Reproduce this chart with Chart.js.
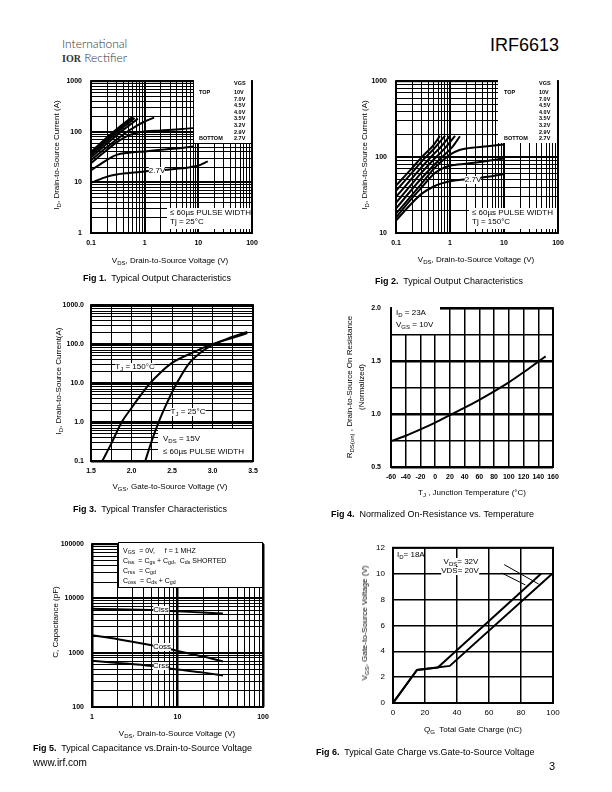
<!DOCTYPE html>
<html>
<head>
<meta charset="utf-8">
<script src="https://cdn.jsdelivr.net/npm/chart.js@4.4.1/dist/chart.umd.min.js"></script>
<style>
  body { margin: 0; width: 612px; height: 792px; background: #fff; position: relative; overflow: hidden;
         font-family: "Liberation Sans", Arial, sans-serif; color: #000; }
  canvas { position: absolute; }
  .t { position: absolute; white-space: nowrap; line-height: 1; z-index: 2; }
  .c { transform: translate(-50%, -50%); }
  .l { transform: translate(0, -50%); }
  .r { transform: translate(-50%, -50%) rotate(-90deg); }
  .w { background: #fff; }
  .box { position: absolute; background: #fff; z-index: 2; }
  sub { font-size: 75%; vertical-align: -0.35em; line-height: 0; }
  .ax { font-size: 8px; }
  .cap { font-size: 9px; }
  .leg { position: absolute; font-size: 5.5px; font-weight: bold; line-height: 1; white-space: nowrap; z-index: 3; }
</style>
</head>
<body>
<canvas id="fig1"></canvas>
<canvas id="fig2"></canvas>
<canvas id="fig3"></canvas>
<canvas id="fig4"></canvas>
<canvas id="fig5"></canvas>
<canvas id="fig6"></canvas>

<!-- header -->
<div class="t l" style="left:62px;top:44px;font-family:Lato,'Open Sans',sans-serif;font-weight:300;font-size:12px;color:#333">International</div>
<div class="t l" style="left:62px;top:58px;font-size:12px;color:#333"><span style="font-family:'Liberation Serif',serif;font-weight:bold;font-size:10px">IOR</span><span style="font-family:Lato,'Open Sans',sans-serif;font-weight:300"> Rectifier</span></div>
<div class="t l" style="left:490px;top:45px;font-size:18px;">IRF6613</div>

<!-- fig 1 -->
<div class="box" style="left:194px;top:79px;width:57px;height:64px"></div>
<div class="box" style="left:167px;top:208px;width:84px;height:21px"></div>
<div class="t l ax" style="left:170px;top:213px">≤ 60µs PULSE WIDTH</div>
<div class="t l ax" style="left:170px;top:222px">Tj = 25°C</div>
<div class="t c ax w" style="left:157px;top:171px">2.7V</div>
<div class="t r ax" style="left:57px;top:155px">I<sub>D</sub>, Drain-to-Source Current (A)</div>
<div class="t c ax" style="left:170px;top:261px">V<sub>DS</sub>, Drain-to-Source Voltage (V)</div>
<div class="t l cap" style="left:83px;top:278px"><b>Fig 1.</b>&nbsp; Typical Output Characteristics</div>

<!-- fig 2 -->
<div class="box" style="left:498px;top:79px;width:59px;height:64px"></div>
<div class="box" style="left:469px;top:208px;width:88px;height:21px"></div>
<div class="t l ax" style="left:472px;top:213px">≤ 60µs PULSE WIDTH</div>
<div class="t l ax" style="left:472px;top:222px">Tj = 150°C</div>
<div class="t c ax w" style="left:473px;top:180px">2.7V</div>
<div class="t r ax" style="left:365px;top:155px">I<sub>D</sub>, Drain-to-Source Current (A)</div>
<div class="t c ax" style="left:476px;top:260px">V<sub>DS</sub>, Drain-to-Source Voltage (V)</div>
<div class="t l cap" style="left:375px;top:281px"><b>Fig 2.</b>&nbsp; Typical Output Characteristics</div>

<!-- fig 3 -->
<div class="t c ax w" style="left:135px;top:367px">T<sub>J</sub> = 150°C</div>
<div class="t c ax w" style="left:188px;top:412px">T<sub>J</sub> = 25°C</div>
<div class="box" style="left:158px;top:429px;width:94px;height:31px"></div>
<div class="t l ax" style="left:163px;top:439px">V<sub>DS</sub> = 15V</div>
<div class="t l ax" style="left:163px;top:452px">≤ 60µs PULSE WIDTH</div>
<div class="t r ax" style="left:59px;top:381px">I<sub>D</sub>, Drain-to-Source Current(A)</div>
<div class="t c ax" style="left:170px;top:487px">V<sub>GS</sub>, Gate-to-Source Voltage (V)</div>
<div class="t l cap" style="left:73px;top:509px"><b>Fig 3.</b>&nbsp; Typical Transfer Characteristics</div>

<!-- fig 4 -->
<div class="box" style="left:392px;top:305px;width:48px;height:29px"></div>
<div class="t l ax" style="left:396px;top:313px">I<sub>D</sub> = 23A</div>
<div class="t l ax" style="left:396px;top:325px">V<sub>GS</sub> = 10V</div>
<div class="t r ax" style="left:350px;top:387px">R<sub>DS(on)</sub> , Drain-to-Source On Resistance</div>
<div class="t r ax" style="left:362px;top:387px">(Normalized)</div>
<div class="t c ax" style="left:472px;top:493px">T<sub>J</sub> , Junction Temperature (°C)</div>
<div class="t l cap" style="left:331px;top:514px"><b>Fig 4.</b>&nbsp; Normalized On-Resistance vs. Temperature</div>

<!-- fig 5 -->
<div class="box" style="left:118px;top:542px;width:143px;height:44px;border:1.5px solid #000"></div>
<div class="t l" style="left:123px;top:550px;font-size:7px">V<sub>GS</sub>&nbsp; = 0V,&nbsp;&nbsp;&nbsp;&nbsp; f = 1 MHZ</div>
<div class="t l" style="left:123px;top:560px;font-size:7px">C<sub>iss</sub>&nbsp; = C<sub>gs</sub> + C<sub>gd</sub>,&nbsp; C<sub>ds</sub> SHORTED</div>
<div class="t l" style="left:123px;top:570px;font-size:7px">C<sub>rss</sub>&nbsp; = C<sub>gd</sub></div>
<div class="t l" style="left:123px;top:580px;font-size:7px">C<sub>oss</sub>&nbsp; = C<sub>ds</sub> + C<sub>gd</sub></div>
<div class="t c ax w" style="left:161px;top:610px">Ciss</div>
<div class="t c ax w" style="left:162px;top:647px">Coss</div>
<div class="t c ax w" style="left:161px;top:666px">Crss</div>
<div class="t r ax" style="left:56px;top:622px">C, Capacitance (pF)</div>
<div class="t c ax" style="left:177px;top:734px">V<sub>DS</sub>, Drain-to-Source Voltage (V)</div>
<div class="t l cap" style="left:33px;top:748px"><b>Fig 5.</b>&nbsp; Typical Capacitance vs.Drain-to-Source Voltage</div>
<div class="t l" style="left:33px;top:763px;font-size:10px">www.irf.com</div>

<!-- fig 6 -->
<div class="t l ax" style="left:397px;top:555px">I<sub>D</sub>= 18A</div>
<div class="t c ax w" style="left:461px;top:562px">V<sub>DS</sub>= 32V</div>
<div class="t c ax w" style="left:460px;top:571px">VDS= 20V</div>
<div class="t r ax" style="left:365px;top:623px">V<sub>GS</sub>, Gate-to-Source Voltage (V)</div>
<div class="t c ax" style="left:473px;top:730px">Q<sub>G</sub>&nbsp; Total Gate Charge (nC)</div>
<div class="t l cap" style="left:316px;top:752px"><b>Fig 6.</b>&nbsp; Typical Gate Charge vs.Gate-to-Source Voltage</div>
<div class="t l" style="left:549px;top:766px;font-size:11px">3</div>

<script>
// Fig 1: output characteristics, Tj = 25°C  [VDS (V), ID (A)]
const fig1Vgs = ["10V", "7.0V", "4.5V", "4.0V", "3.5V", "3.2V", "2.9V", "2.7V"];
const fig1Curves = [
  [[0.1, 40], [0.2, 78], [0.3, 112], [0.4, 144], [0.5, 172], [0.6, 196]],
  [[0.1, 37], [0.2, 72], [0.3, 104], [0.4, 134], [0.5, 161], [0.62, 192]],
  [[0.1, 34], [0.2, 66], [0.3, 95], [0.4, 123], [0.5, 148], [0.65, 188]],
  [[0.1, 31], [0.2, 59], [0.3, 85], [0.4, 109], [0.5, 131], [0.7, 172], [0.75, 182]],
  [[0.1, 27.5], [0.2, 50], [0.3, 70], [0.5, 105], [0.7, 130], [1, 160], [1.5, 190]],
  [[0.1, 24], [0.2, 44], [0.3, 62], [0.5, 85], [0.7, 95], [1, 101], [2, 106], [5, 113], [10, 121]],
  [[0.1, 17.3], [0.2, 28], [0.3, 35], [0.5, 38.5], [1, 41], [2, 44], [5, 48], [8, 51]],
  [[0.1, 9.8], [0.2, 13], [0.3, 14.3], [0.5, 15.3], [1, 16.5], [2, 17.4], [5, 19], [7, 20], [10, 21.5], [15, 26]]
];

// Fig 2: output characteristics, Tj = 150°C
const fig2Curves = [
  [[0.1, 42], [0.2, 72], [0.3, 100], [0.5, 145], [0.65, 190]],
  [[0.1, 36], [0.2, 63], [0.3, 88], [0.5, 128], [0.81, 192]],
  [[0.1, 30], [0.2, 53], [0.3, 74], [0.5, 110], [0.7, 140], [1.0, 192]],
  [[0.1, 25], [0.2, 45], [0.3, 63], [0.5, 93], [0.8, 130], [1.24, 190]],
  [[0.1, 21], [0.2, 38], [0.3, 53], [0.5, 78], [0.8, 108], [1.1, 135], [1.53, 188]],
  [[0.1, 18], [0.2, 32], [0.3, 45], [0.5, 70], [0.7, 88], [1, 108], [1.5, 124], [2, 130], [5, 139], [10, 147]],
  [[0.1, 16], [0.2, 29], [0.3, 40], [0.5, 60], [0.7, 70], [1, 77], [2, 82], [5, 89], [10, 96]],
  [[0.1, 14.6], [0.2, 25], [0.3, 33], [0.5, 41], [0.7, 45], [1, 48], [2, 51], [5, 55], [10, 60]]
];

// Fig 3: transfer characteristics [VGS (V), ID (A)]
const fig3Tj150 = [[1.64, 0.1], [1.75, 0.28], [1.88, 1.0], [2.0, 2.3], [2.1, 4.5], [2.23, 10], [2.35, 18],
                   [2.5, 33], [2.75, 60], [3.0, 100], [3.25, 145], [3.43, 192]];
const fig3Tj25 = [[2.17, 0.1], [2.25, 0.33], [2.335, 1.0], [2.45, 3.5], [2.56, 10], [2.7, 30], [2.85, 60],
                  [3.0, 96], [3.2, 142], [3.43, 205]];

// Fig 4: normalized RDS(on) vs TJ
const fig4Temp = [-60, -40, -20, 0, 20, 40, 60, 80, 100, 120, 140, 150];
const fig4Rds = [0.745, 0.795, 0.855, 0.92, 0.99, 1.06, 1.135, 1.215, 1.30, 1.395, 1.495, 1.545];

// Fig 5: capacitance vs VDS
const fig5Vds = [1, 2, 5, 10, 20, 34];
const fig5Ciss = [6450, 6350, 6100, 5800, 5500, 5300];
const fig5Coss = [2090, 1780, 1370, 1080, 850, 690];
const fig5Crss = [710, 650, 570, 490, 430, 380];

// Fig 6: gate charge [QG (nC), VGS (V)]
const fig6Vds32 = [[0, 0], [15, 2.55], [35.5, 2.87], [99.5, 10]];
const fig6Vds20 = [[0, 0], [15, 2.55], [28, 2.75], [92.5, 10]];
const fig6Leader32 = [[69.5, 10.7], [91, 9.2]];
const fig6Leader20 = [[68, 10.05], [82.7, 9.13]];

Chart.defaults.font.family = '"Liberation Sans", Arial, sans-serif';
Chart.defaults.color = "#000";

const isDecade = (v) => Math.abs(Math.log10(v) - Math.round(Math.log10(v))) < 1e-9;

function logTicks(min, max) {
  const out = [];
  for (let e = Math.floor(Math.log10(min) + 1e-9); Math.pow(10, e) <= max * 1.0001; e++) {
    for (let m = 1; m < 10; m++) {
      const v = +(m * Math.pow(10, e)).toPrecision(6);
      if (v >= min * 0.9999 && v <= max * 1.0001) out.push({ value: v });
    }
  }
  return out;
}

function logAxis(min, max, minorW, majorW, fmt, font, pad) {
  return {
    type: "logarithmic", min, max,
    afterBuildTicks: (s) => { s.ticks = logTicks(min, max); },
    grid: { color: "#000", drawTicks: false, lineWidth: (c) => (isDecade(c.tick.value) ? majorW : minorW) },
    border: { display: false },
    ticks: { autoSkip: false, maxRotation: 0, padding: pad, font, callback: (v) => (isDecade(v) ? fmt(v) : "") }
  };
}

function linAxis(min, max, step, lw, fmt, font, pad) {
  return {
    type: "linear", min, max,
    grid: { color: "#000", drawTicks: false, lineWidth: lw },
    border: { display: false },
    ticks: { stepSize: step, autoSkip: false, maxRotation: 0, padding: pad, font, callback: fmt }
  };
}

function curve(points, width, straight) {
  return {
    data: points.map((p) => ({ x: p[0], y: p[1] })),
    borderColor: "#000", borderWidth: width || 2, pointRadius: 0, fill: false,
    cubicInterpolationMode: straight ? "default" : "monotone", tension: 0
  };
}

const framePlugin = {
  id: "frame",
  afterDatasetsDraw(chart) {
    const { ctx, chartArea: a } = chart;
    ctx.save();
    ctx.strokeStyle = "#000";
    ctx.lineWidth = 2;
    ctx.strokeRect(a.left, a.top, a.right - a.left, a.bottom - a.top);
    ctx.restore();
  }
};

// plot box = [left, top, right, bottom] on the page
function makeChart(id, box, datasets, xScale, yScale) {
  const L = 60, T = 10, R = 16, B = 30;
  const cv = document.getElementById(id);
  cv.width = box[2] - box[0] + L + R;
  cv.height = box[3] - box[1] + T + B;
  cv.style.left = box[0] - L + "px";
  cv.style.top = box[1] - T + "px";
  xScale.afterFit = (s) => { s.height = B; };
  yScale.afterFit = (s) => { s.width = L; };
  return new Chart(cv, {
    type: "line",
    data: { datasets },
    options: {
      responsive: false, animation: false,
      layout: { padding: { top: T, right: R, left: 0, bottom: 0 } },
      plugins: { legend: { display: false }, tooltip: { enabled: false } },
      scales: { x: xScale, y: yScale }
    },
    plugins: [framePlugin]
  });
}

const small = { size: 7, weight: "bold" };
const plain = { size: 8 };
const decFmt = (v) => String(v);
const halfStep = (v) => Math.abs(v * 2 - Math.round(v * 2)) < 1e-6;

makeChart("fig1", [91, 78, 252, 233], fig1Curves.map((c) => curve(c)),
  logAxis(0.1, 100, 1, 2, decFmt, small, 6),
  logAxis(1, 1000, 1, 2, decFmt, small, 9));

makeChart("fig2", [396, 78, 558, 233], fig2Curves.map((c) => curve(c)),
  logAxis(0.1, 100, 1, 2, decFmt, small, 6),
  logAxis(10, 1000, 1, 2, decFmt, small, 9));

makeChart("fig3", [91, 304, 253, 461], [curve(fig3Tj150), curve(fig3Tj25)],
  linAxis(1.5, 3.5, 0.25, 1, (v) => (halfStep(v) ? v.toFixed(1) : ""), small, 6),
  logAxis(0.1, 1000, 1, 2.5, (v) => (v >= 1 ? v.toFixed(1) : "0.1"), small, 7));

makeChart("fig4", [391, 304, 553, 467], [curve(fig4Temp.map((t, i) => [t, fig4Rds[i]]))],
  linAxis(-60, 160, 20, 1.5, (v) => String(v), small, 6),
  linAxis(0.5, 2.0, 0.25, (c) => (halfStep(c.tick.value) ? 2.5 : 1.5),
    (v) => (halfStep(v) ? v.toFixed(1) : ""), small, 10));

makeChart("fig5", [92, 542, 263, 707],
  [fig5Ciss, fig5Coss, fig5Crss].map((s) => curve(fig5Vds.map((v, i) => [v, s[i]]))),
  logAxis(1, 100, 1, 2.5, decFmt, small, 6),
  logAxis(100, 100000, 1, 2, decFmt, small, 8));

makeChart("fig6", [393, 545, 553, 703],
  [curve(fig6Vds32, 2, true), curve(fig6Vds20, 2, true), curve(fig6Leader32, 1, true), curve(fig6Leader20, 1, true)],
  linAxis(0, 100, 20, 1.5, (v) => String(v), plain, 5),
  linAxis(0, 12, 2, 1.5, (v) => String(v), plain, 8));

// VGS legends of figs 1 and 2
function vgsLegend(colLeft, colRight, top) {
  const add = (x, y, txt) => {
    const d = document.createElement("div");
    d.className = "leg";
    d.style.left = x + "px";
    d.style.top = y + "px";
    d.textContent = txt;
    document.body.appendChild(d);
  };
  add(colRight, top, "VGS");
  add(colLeft, top + 9, "TOP");
  add(colLeft, top + 9 + 6.6 * 7, "BOTTOM");
  fig1Vgs.forEach((v, i) => add(colRight, top + 9 + 6.6 * i, v));
}
vgsLegend(199, 234, 81);
vgsLegend(504, 539, 81);
</script>
</body>
</html>
